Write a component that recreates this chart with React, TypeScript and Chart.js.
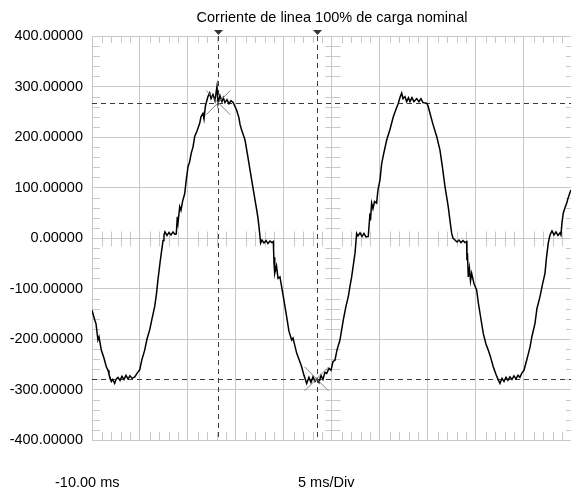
import React, { useEffect, useRef } from "react";
import { Chart, registerables } from "chart.js";

Chart.register(...registerables);

// ---- text ----
const chartTitle = "Corriente de linea 100% de carga nominal";
const startTimeLabel = "-10.00 ms";
const timebaseLabel = "5 ms/Div";

// ---- axes ----
const xMinMs = -10;
const xMaxMs = 39.9;
const msPerDiv = 5;
const yMin = -400;
const yMax = 400;
const yStep = 100;

// ---- cursors ----
const cursorTimesMs = [3.15, 13.4];
const cursorLevels = [268, -279];

// ---- waveform (time ms, current) by half-cycle ----
const negHalf1: [number, number][] = [
  [-10.0, -143], [-9.72, -162], [-9.58, -170], [-9.38, -202], [-9.27, -196], [-9.03, -222], [-8.75, -238],
  [-8.51, -255], [-8.33, -262], [-8.23, -270], [-7.99, -284], [-7.86, -280], [-7.64, -288], [-7.5, -280],
  [-7.29, -276], [-7.08, -282], [-6.88, -274], [-6.67, -280], [-6.46, -272], [-6.25, -279], [-6.04, -273],
  [-5.83, -278], [-5.55, -275], [-5.31, -268], [-5.03, -261], [-4.79, -240], [-4.51, -222], [-4.27, -200],
  [-3.99, -182], [-3.75, -160], [-3.47, -136], [-3.28, -110], [-3.13, -83], [-2.92, -50], [-2.78, -30], [-2.6, -5],
];
const posHalf1: [number, number][] = [
  [-2.5, 6], [-2.4, 12], [-2.19, 5], [-1.98, 11], [-1.77, 6], [-1.56, 12], [-1.35, 7], [-1.22, 8], [-1.11, 42],
  [-1.04, 30], [-0.86, 62], [-0.73, 55], [-0.57, 72], [-0.34, 88], [-0.18, 115], [0.0, 141], [0.16, 150],
  [0.34, 168], [0.52, 180], [0.7, 201], [0.94, 212], [1.22, 227], [1.35, 240], [1.56, 247], [1.67, 236],
  [1.82, 262], [2.08, 280], [2.26, 287], [2.4, 276], [2.6, 284], [2.81, 272], [3.02, 300], [3.13, 266],
  [3.33, 282], [3.54, 270], [3.68, 278], [3.85, 268], [4.06, 274], [4.27, 266], [4.48, 272], [4.72, 268],
  [5.07, 253], [5.31, 238], [5.42, 225], [5.59, 214], [5.73, 206], [5.94, 194], [6.2, 165], [6.46, 135],
  [6.81, 95], [7.16, 55], [7.29, 40], [7.43, 16],
];
const negHalf2: [number, number][] = [
  [7.57, -10], [7.71, -4], [7.92, -10], [8.13, -5], [8.33, -11], [8.54, -6], [8.75, -9], [8.89, -7], [8.96, -50],
  [9.01, -38], [9.06, -70], [9.22, -55], [9.38, -80], [9.58, -77], [9.93, -116], [10.28, -156], [10.52, -185],
  [10.8, -202], [10.94, -198], [11.32, -228], [11.56, -240], [11.84, -255], [12.08, -272], [12.36, -288],
  [12.6, -276], [12.81, -286], [13.02, -275], [13.23, -284], [13.44, -278], [13.65, -286], [13.85, -272],
  [14.06, -280], [14.27, -266], [14.45, -268], [14.69, -258], [14.9, -262], [15.1, -245], [15.31, -242],
  [15.52, -222], [15.83, -202], [16.18, -162], [16.46, -135], [16.7, -116], [16.88, -95], [17.05, -77], [17.4, -30],
];
const posHalf2: [number, number][] = [
  [17.57, 9], [17.71, 4], [17.92, 10], [18.13, 3], [18.33, 9], [18.54, 2], [18.78, 3], [18.96, 49], [19.01, 35],
  [19.13, 69], [19.27, 58], [19.43, 72], [19.65, 69], [19.79, 95], [20.0, 115], [20.18, 148], [20.42, 170],
  [20.7, 194], [21.04, 215], [21.39, 240], [21.67, 255], [21.91, 267], [22.08, 278], [22.26, 287], [22.4, 276],
  [22.6, 280], [22.78, 270], [22.97, 278], [23.13, 270], [23.33, 278], [23.54, 270], [23.82, 276], [24.06, 270],
  [24.27, 276], [24.48, 268], [24.86, 267], [25.0, 262], [25.21, 247], [25.52, 225], [25.91, 201], [26.25, 174],
  [26.51, 140], [26.77, 102], [27.11, 62], [27.29, 35], [27.47, 9],
];
const negHalf3: [number, number][] = [
  [27.6, 0], [27.81, -4], [28.02, -8], [28.23, -4], [28.44, -9], [28.65, -5], [28.85, -9], [29.03, -7],
  [29.06, -44], [29.11, -30], [29.2, -77], [29.32, -60], [29.43, -85], [29.55, -70], [29.79, -90], [30.07, -103],
  [30.26, -130], [30.42, -149], [30.76, -189], [31.04, -210], [31.28, -222], [31.46, -232], [31.8, -255],
  [32.08, -270], [32.32, -281], [32.5, -288], [32.71, -278], [32.92, -284], [33.13, -276], [33.33, -282],
  [33.54, -275], [33.75, -280], [33.96, -273], [34.17, -279], [34.38, -272], [34.58, -276], [34.76, -268],
  [35.0, -262], [35.28, -242], [35.42, -232], [35.63, -216], [35.83, -195], [36.15, -169], [36.35, -140],
  [36.67, -116], [36.93, -92], [37.19, -70], [37.34, -40], [37.53, -10],
];
const posHalf3: [number, number][] = [
  [37.71, 6], [37.92, 14], [38.13, 6], [38.33, 12], [38.54, 5], [38.75, 10], [38.85, 6], [38.96, 30],
  [39.09, 49], [39.27, 60], [39.45, 69], [39.58, 78], [39.79, 90], [39.9, 95],
];

const FONT = "'Liberation Sans', Arial, sans-serif";
const GRID = "#c8c8c8";
const DASH = "#3a3a3a";

const overlayPlugin = {
  id: "scopeOverlay",
  beforeDatasetsDraw(chart: any) {
    const { ctx, chartArea: a, scales } = chart;
    const xs = scales.x;
    const ys = scales.y;
    const al = (p: number) => Math.round(p) + 0.5;
    ctx.save();
    ctx.strokeStyle = GRID;
    ctx.lineWidth = 1;
    ctx.beginPath();
    const cx = al(xs.getPixelForValue(xMinMs + msPerDiv * 5));
    const cy = al(ys.getPixelForValue(0));
    const minorX = msPerDiv / 5;
    for (let i = 1; xMinMs + i * minorX <= xMaxMs; i++) {
      if (i % 5 === 0) continue;
      const px = al(xs.getPixelForValue(xMinMs + i * minorX));
      ctx.moveTo(px, a.top);
      ctx.lineTo(px, a.top + 7);
      ctx.moveTo(px, a.bottom);
      ctx.lineTo(px, a.bottom - 8);
      ctx.moveTo(px, cy - 7);
      ctx.lineTo(px, cy + 8);
    }
    const minorY = yStep / 5;
    for (let i = 1; yMin + i * minorY < yMax; i++) {
      if (i % 5 === 0) continue;
      const py = al(ys.getPixelForValue(yMin + i * minorY));
      ctx.moveTo(a.left, py);
      ctx.lineTo(a.left + 8, py);
      ctx.moveTo(a.right + 2, py);
      ctx.lineTo(a.right - 5, py);
      ctx.moveTo(cx - 7, py);
      ctx.lineTo(cx + 8, py);
    }
    ctx.stroke();

    // dashed cursor lines
    ctx.strokeStyle = DASH;
    ctx.setLineDash([5, 4]);
    ctx.beginPath();
    cursorTimesMs.forEach((t) => {
      const px = al(xs.getPixelForValue(t));
      ctx.moveTo(px, a.top);
      ctx.lineTo(px, a.bottom);
    });
    cursorLevels.forEach((v) => {
      const py = al(ys.getPixelForValue(v));
      ctx.moveTo(a.left, py);
      ctx.lineTo(a.right, py);
    });
    ctx.stroke();
    ctx.restore();
  },
  afterDatasetsDraw(chart: any) {
    const { ctx, chartArea: a, scales } = chart;
    const xs = scales.x;
    const ys = scales.y;
    ctx.save();
    // X markers
    ctx.strokeStyle = "#808080";
    ctx.lineWidth = 1;
    ctx.beginPath();
    cursorTimesMs.forEach((t, i) => {
      const px = xs.getPixelForValue(t);
      const py = ys.getPixelForValue(cursorLevels[i]);
      ctx.moveTo(px - 12, py - 12);
      ctx.lineTo(px + 12, py + 12);
      ctx.moveTo(px - 12, py + 12);
      ctx.lineTo(px + 12, py - 12);
    });
    ctx.stroke();
    // triangles
    ctx.fillStyle = "#333";
    cursorTimesMs.forEach((t) => {
      const px = Math.round(xs.getPixelForValue(t)) + 0.5;
      ctx.beginPath();
      ctx.moveTo(px - 4.5, a.top - 6);
      ctx.lineTo(px + 4.5, a.top - 6);
      ctx.lineTo(px, a.top - 1);
      ctx.closePath();
      ctx.fill();
    });
    ctx.restore();
  },
  afterDraw(chart: any) {
    const { ctx, chartArea: a } = chart;
    ctx.save();
    ctx.fillStyle = "#000";
    ctx.font = `14.5px ${FONT}`;
    ctx.textBaseline = "middle";
    ctx.textAlign = "center";
    ctx.fillText(chartTitle, (a.left + 572) / 2, a.top - 18);
    ctx.textAlign = "left";
    ctx.fillText(startTimeLabel, a.left - 37, a.bottom + 43);
    ctx.fillText(timebaseLabel, a.left + 206, a.bottom + 43);
    ctx.restore();
  },
};

export default function App() {
  const canvasRef = useRef<HTMLCanvasElement | null>(null);

  useEffect(() => {
    const canvas = canvasRef.current;
    if (!canvas) return;
    const points = [...negHalf1, ...posHalf1, ...negHalf2, ...posHalf2, ...negHalf3, ...posHalf3].map(
      ([x, y]) => ({ x, y })
    );
    const chart = new Chart(canvas, {
      type: "line",
      data: {
        datasets: [
          {
            data: points,
            borderColor: "#000",
            borderWidth: 1.5,
            pointRadius: 0,
            tension: 0,
            fill: false,
          },
        ],
      },
      options: {
        responsive: false,
        animation: false,
        devicePixelRatio: 1,
        layout: { padding: { top: 36, bottom: 50, left: 0, right: 0 } },
        plugins: { legend: { display: false }, tooltip: { enabled: false }, title: { display: false } },
        scales: {
          x: {
            type: "linear",
            min: xMinMs,
            max: xMaxMs,
            ticks: { display: false, stepSize: msPerDiv, includeBounds: false },
            grid: { color: GRID, drawTicks: false, lineWidth: 1 },
            border: { display: true, color: GRID },
            afterFit: (s: any) => {
              s.height = 0;
            },
          },
          y: {
            type: "linear",
            min: yMin,
            max: yMax,
            ticks: {
              stepSize: yStep,
              color: "#000",
              padding: 9,
              font: { family: FONT, size: 14.5 },
              callback: (v: any) => Number(v).toFixed(5),
            },
            grid: { color: GRID, drawTicks: false, lineWidth: 1 },
            border: { display: true, color: GRID },
            afterFit: (s: any) => {
              s.width = 92;
            },
          },
        },
      },
      plugins: [overlayPlugin],
    });
    return () => chart.destroy();
  }, []);

  return (
    <div style={{ position: "absolute", left: 0, top: 0, width: 571, height: 490, background: "#fff" }}>
      <canvas ref={canvasRef} width={571} height={490} style={{ display: "block" }} />
    </div>
  );
}
